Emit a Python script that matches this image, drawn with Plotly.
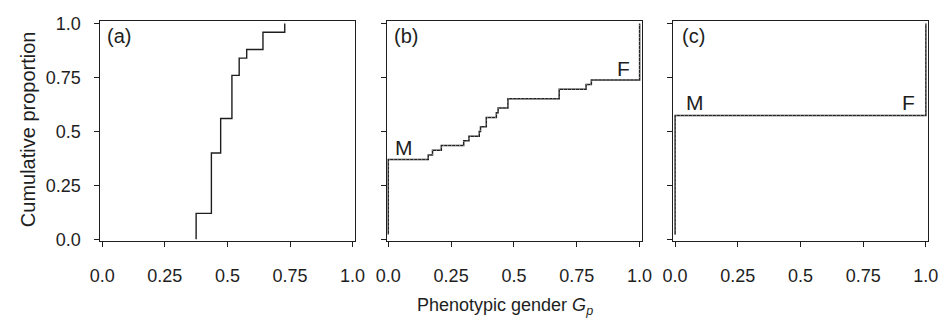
import numpy as np
import plotly.graph_objects as go

# ---- data ----
a_x = [0.375, 0.436, 0.473, 0.518, 0.547, 0.577, 0.642, 0.729]
a_counts = [3, 7, 4, 5, 2, 1, 2, 1]

b_x = [0.0, 0.159, 0.176, 0.211, 0.300, 0.321, 0.362, 0.367, 0.390,
       0.430, 0.437, 0.476, 0.680, 0.787, 0.808, 1.0]
b_counts = [17, 1, 1, 1, 1, 1, 1, 1, 2, 1, 1, 2, 2, 1, 1, 12]

c_x = [0.0, 1.0]
c_counts = [27, 20]

x_ticks = [0, 0.25, 0.5, 0.75, 1.0]
x_ticktext = ["0.0", "0.25", "0.5", "0.75", "1.0"]
y_ticks = [0, 0.25, 0.5, 0.75, 1.0]
y_ticktext = ["0.0", "0.25", "0.5", "0.75", "1.0"]

panel_labels = ["(a)", "(b)", "(c)"]


def ecdf_points(xs, counts, from_zero=False):
    vals = np.repeat(xs, counts)
    n = len(vals)
    y = np.arange(1, n + 1) / n
    if from_zero:
        return np.concatenate([[vals[0]], vals]), np.concatenate([[0.0], y])
    return vals, y


W, H = 952, 320
frames = [(91.5, 351.5), (384.0, 645.0), (677.3, 937.7)]
label_cx = [110.5, 403.5, 697.5]
ftop, fbot = 15.0, 246.0
xr = [-0.007, 1.0086]
yr = [-0.0066, 1.011]
INK = "#1e1e1e"

fig = go.Figure()

ax, ay = ecdf_points(a_x, a_counts, from_zero=True)
fig.add_trace(go.Scatter(x=ax, y=ay, mode="lines", line=dict(color=INK, width=1.4, shape="hv"),
                         xaxis="x", yaxis="y", showlegend=False, hoverinfo="skip"))

for k, (xs, cs) in enumerate([(b_x, b_counts), (c_x, c_counts)], start=2):
    px, py = ecdf_points(xs, cs)
    fig.add_trace(go.Scatter(x=px, y=py, mode="lines",
                             line=dict(color="#222", width=1.5, shape="hv"),
                             xaxis=f"x{k}", yaxis=f"y{k}", showlegend=False, hoverinfo="skip"))
    fig.add_trace(go.Scatter(x=px, y=py, mode="lines",
                             line=dict(color="#b5b5b5", width=0.8, shape="hv", dash="1px,3px"),
                             xaxis=f"x{k}", yaxis=f"y{k}", showlegend=False, hoverinfo="skip"))

font = dict(family="Arial, Liberation Sans, Helvetica, sans-serif", color=INK)
layout = dict(width=W, height=H, margin=dict(l=0, r=0, t=0, b=0),
              paper_bgcolor="white", plot_bgcolor="white", font=font)

ydom = [1 - fbot / H, 1 - ftop / H]
for i, (l, r) in enumerate(frames):
    sfx = "" if i == 0 else str(i + 1)
    layout[f"xaxis{sfx}"] = dict(
        domain=[l / W, r / W], range=xr, anchor=f"y{sfx}",
        showline=True, mirror=True, linecolor=INK, linewidth=1,
        showgrid=False, zeroline=False,
        ticks="outside", ticklen=5, tickcolor=INK, tickwidth=1,
        tickvals=x_ticks, ticktext=x_ticktext, ticklabelstandoff=14,
        tickfont=dict(size=18, color=INK), fixedrange=True)
    ycfg = dict(
        domain=ydom, range=yr, anchor=f"x{sfx}",
        showline=True, mirror=True, linecolor=INK, linewidth=1,
        showgrid=False, zeroline=False,
        ticks="outside", ticklen=5, tickcolor=INK, tickwidth=1,
        tickvals=y_ticks, fixedrange=True)
    if i == 0:
        ycfg.update(ticktext=y_ticktext, showticklabels=True, ticklabelstandoff=10,
                    tickfont=dict(size=18, color=INK))
    else:
        ycfg.update(showticklabels=False)
    layout[f"yaxis{sfx}"] = ycfg

annotations = []
for i, lab in enumerate(panel_labels):
    annotations.append(dict(text=lab, xref="paper", yref="paper",
                            x=label_cx[i] / W, y=1 - 31 / H,
                            xanchor="center", yanchor="middle", showarrow=False,
                            font=dict(size=20, color=INK)))
# M / F markers
mf = [("M", 402, 147.5), ("F", 626, 64.5), ("M", 699, 101), ("F", 917.5, 101)]
for t, x, y in mf:
    annotations.append(dict(text=t, xref="paper", yref="paper", x=x / W, y=1 - y / H,
                            xanchor="center", yanchor="middle", showarrow=False,
                            font=dict(size=21, color=INK)))
annotations.append(dict(text="Cumulative proportion", xref="paper", yref="paper",
                        x=17 / W, y=1 - 129 / H, textangle=-90, xanchor="center", yanchor="middle",
                        showarrow=False, font=dict(size=20, color=INK)))
annotations.append(dict(text="Phenotypic gender <i>G</i><sub><i>p</i></sub>", xref="paper", yref="paper",
                        x=505 / W, y=1 - 315 / H, xanchor="center", yanchor="middle",
                        showarrow=False, font=dict(size=18, color=INK)))
layout["annotations"] = annotations

fig.update_layout(**layout)
fig.write_html("out.html")
